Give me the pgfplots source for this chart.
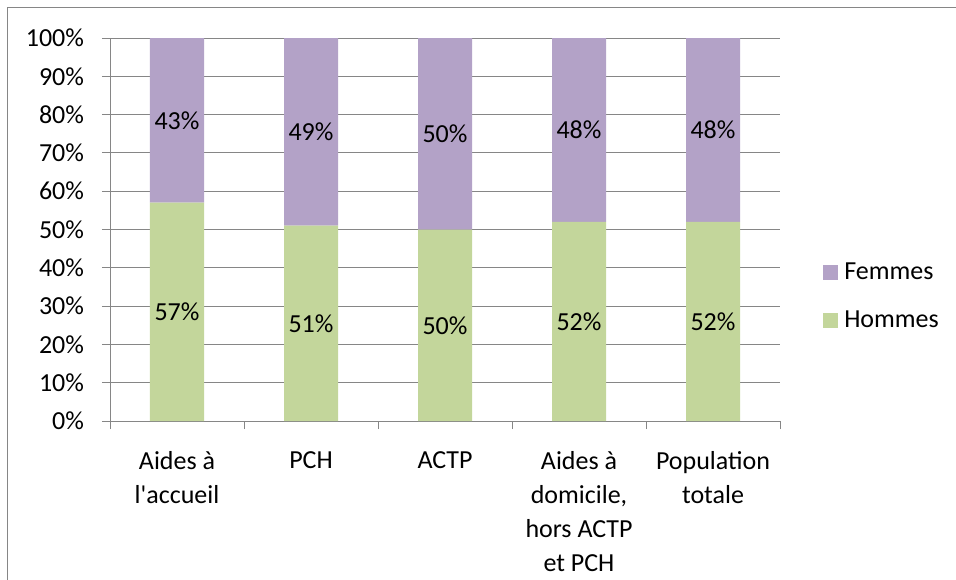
\documentclass[border=0pt]{standalone}
\usepackage{pgfplots}
\pgfplotsset{compat=1.18}
\usepackage{fontspec}
\setmainfont{Carlito}
\definecolor{fem}{HTML}{B3A2C7}
\definecolor{hom}{HTML}{C3D69B}
\definecolor{axgray}{HTML}{868686}
\pgfplotsset{
  sqlegend/.style={legend image code/.code={\fill[##1] (0pt,-5.6pt) rectangle (11.25pt,5.6pt);\path (14.25pt,0pt);}},
}
\begin{document}
\begin{tikzpicture}[font=\fontsize{19.5}{25.5}\selectfont]
\useasboundingbox (0,0) rectangle (717pt,-434.25pt);
\draw[axgray, line width=0.75pt] (5.8pt,-440pt) -- (5.8pt,-5.8pt) -- (720pt,-5.8pt);
\begin{axis}[
  at={(82.5pt,-315.75pt)}, anchor=south west,
  width=502.5pt, height=287.25pt, scale only axis,
  ybar stacked, bar width=0.403,
  every axis plot post/.append style={sqlegend},
  xmin=-0.5, xmax=4.5, ymin=0, ymax=100,
  axis x line*=bottom, axis y line*=left,
  x axis line style={-}, y axis line style={-},
  axis line style={axgray, line width=0.75pt},
  /pgf/number format/assume math mode=true,
  xtick={-0.5,0.5,1.5,2.5,3.5,4.5}, xticklabels={,,,,,},
  extra x ticks={0,1,2,3,4},
  extra x tick labels={{Aides à\\l\textquotesingle accueil}, PCH, ACTP, {Aides à\\domicile,\\hors ACTP\\et PCH}, {Population\\totale}},
  extra x tick style={major tick length=0pt, tick label style={yshift=-19.5pt}},
  x tick label style={align=center},
  ytick={0,10,...,100},
  yticklabel={\pgfmathprintnumber{\tick}\%},
  y tick label style={xshift=-10pt},
  ymajorgrids, grid style={axgray, line width=0.75pt},
  tick style={axgray, line width=0.75pt},
  tick align=outside, major tick length=6pt,
  point meta=explicit,
  nodes near coords={\pgfmathprintnumber{\pgfplotspointmeta}\%},
  every node near coord/.append style={anchor=center, black},
  legend style={draw=none, fill=none, at={(1,0.325)}, anchor=west, xshift=28.75pt,
    row sep=18pt, legend cell align=left},
  reverse legend,
]
\addplot[fill=hom, draw=none] coordinates {(0,57)[57] (1,51)[51] (2,50)[50] (3,52)[52] (4,52)[52]};
\addlegendentry{Hommes}
\addplot[fill=fem, draw=none] coordinates {(0,43)[43] (1,49)[49] (2,50)[50] (3,48)[48] (4,48)[48]};
\addlegendentry{Femmes}
\end{axis}
\end{tikzpicture}
\end{document}
